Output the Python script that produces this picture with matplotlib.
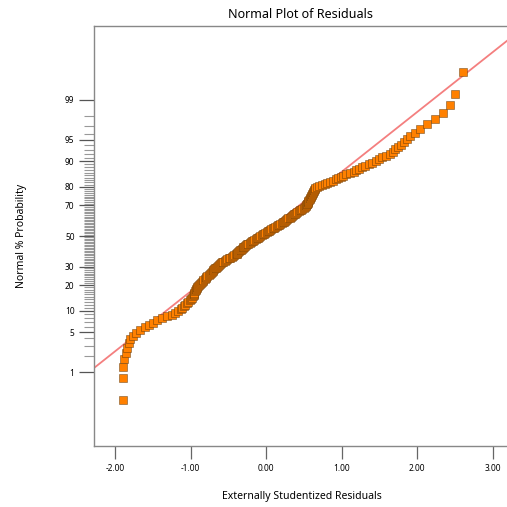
import matplotlib
matplotlib.use('Agg')
import matplotlib.pyplot as plt
import numpy as np
from statistics import NormalDist

# sorted externally studentized residuals
residuals = [
    -1.90, -1.90, -1.90, -1.88, -1.86, -1.84, -1.82, -1.80, -1.77, -1.72,
    -1.67, -1.61, -1.55, -1.50, -1.44, -1.38, -1.31, -1.25, -1.21, -1.17,
    -1.13, -1.11, -1.09, -1.07, -1.05, -1.03, -1.01, -0.99, -0.98, -0.97,
    -0.96, -0.955, -0.95, -0.94, -0.935, -0.925, -0.92, -0.91, -0.90, -0.885,
    -0.875, -0.865, -0.855, -0.84, -0.83, -0.815, -0.80, -0.79, -0.78, -0.76,
    -0.745, -0.735, -0.72, -0.71, -0.70, -0.69, -0.68, -0.665, -0.655, -0.64,
    -0.62, -0.61, -0.60, -0.59, -0.575, -0.55, -0.53, -0.515, -0.495, -0.475,
    -0.455, -0.44, -0.425, -0.405, -0.39, -0.38, -0.37, -0.355, -0.345, -0.335,
    -0.32, -0.31, -0.30, -0.29, -0.28, -0.265, -0.25, -0.235, -0.22, -0.205,
    -0.185, -0.17, -0.155, -0.14, -0.125, -0.11, -0.095, -0.075, -0.06, -0.045,
    -0.03, -0.01, 0.005, 0.02, 0.04, 0.055, 0.07, 0.09, 0.105, 0.12,
    0.14, 0.155, 0.17, 0.19, 0.205, 0.22, 0.235, 0.25, 0.265, 0.28,
    0.295, 0.31, 0.325, 0.34, 0.355, 0.37, 0.385, 0.40, 0.415, 0.43,
    0.45, 0.465, 0.48, 0.50, 0.515, 0.525, 0.53, 0.535, 0.54, 0.55,
    0.555, 0.56, 0.57, 0.575, 0.58, 0.59, 0.595, 0.605, 0.61, 0.62,
    0.625, 0.63, 0.64, 0.645, 0.65, 0.67, 0.70, 0.74, 0.78, 0.81,
    0.85, 0.885, 0.92, 0.95, 0.985, 1.02, 1.06, 1.11, 1.16, 1.19,
    1.23, 1.265, 1.31, 1.36, 1.40, 1.455, 1.50, 1.54, 1.59, 1.635,
    1.675, 1.71, 1.75, 1.78, 1.82, 1.87, 1.91, 1.97, 2.04, 2.13,
    2.24, 2.34, 2.43, 2.50, 2.61,
]

# reference normal line
line_mean = -0.073
line_sd = 0.978

major_pct = [1, 5, 10, 20, 30, 50, 70, 80, 90, 95, 99]
minor_pct = [p for p in range(1, 100) if p not in major_pct]
x_ticks = [-2, -1, 0, 1, 2, 3]

nd = NormalDist()
n = len(residuals)
z = [nd.inv_cdf((i + 0.5) / n) for i in range(n)]

plt.rcParams['font.family'] = ['Noto Sans', 'DejaVu Sans']

fig = plt.figure(figsize=(5.07, 5.07), dpi=100)
ax = fig.add_axes([94 / 507, 1 - 446 / 507, 413 / 507, 420 / 507])

xl = (-2.28, 3.19)
xs = np.array(xl)
ax.plot(xs, (xs - line_mean) / line_sd, color='#f47f7f', lw=1.3, zorder=1)
ax.scatter(residuals, z, marker='s', s=40, facecolor='#ff8000',
           edgecolor=(0.3, 0.18, 0.03, 0.6), linewidth=0.5, zorder=2)

ax.set_xlim(*xl)
ax.set_ylim(-3.59, 3.59)

ax.set_yticks([nd.inv_cdf(p / 100) for p in major_pct])
ax.set_yticklabels([str(p) for p in major_pct], fontsize=6)
ax.set_yticks([nd.inv_cdf(p / 100) for p in minor_pct], minor=True)
ax.tick_params(axis='y', which='major', length=11, width=0.9, color='#555555', pad=3)
ax.tick_params(axis='y', which='minor', length=7, width=0.8, color='#999999')

ax.set_xticks(x_ticks)
ax.set_xticklabels(['%.2f' % v for v in x_ticks], fontsize=6)
ax.tick_params(axis='x', length=9, width=0.9, color='#666666', pad=4)

for s in ['left', 'top', 'bottom']:
    ax.spines[s].set_color('#888888')
    ax.spines[s].set_linewidth(1.0)
ax.spines['right'].set_visible(False)

ax.set_title('Normal Plot of Residuals', fontsize=9, pad=6)
fig.text(302 / 507, 1 - 496 / 507, 'Externally Studentized Residuals',
         fontsize=7.5, ha='center', va='center')
fig.text(22 / 507, 1 - 236 / 507, 'Normal % Probability',
         fontsize=7.5, ha='center', va='center', rotation=90)

fig.savefig('out.png', dpi=100)
